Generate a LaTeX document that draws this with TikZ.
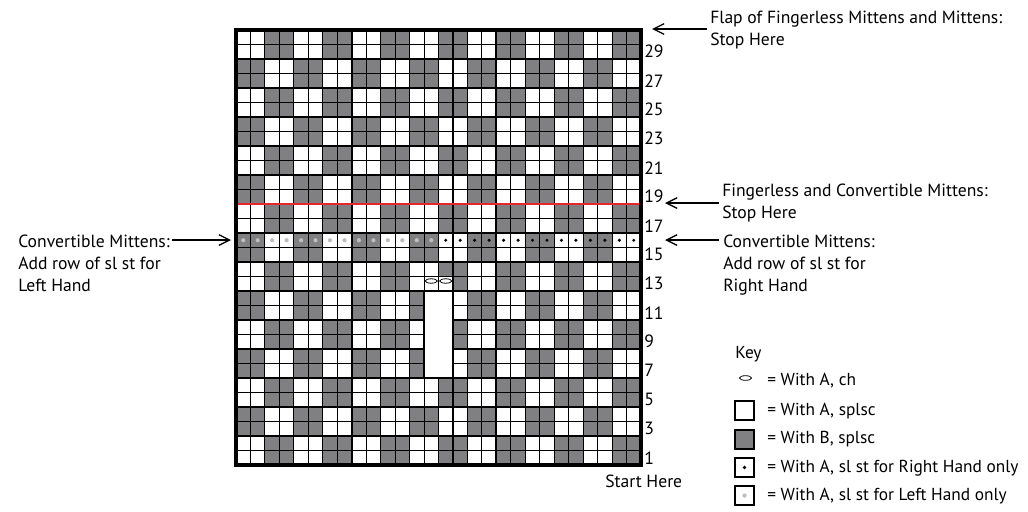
\documentclass[tikz,border=0pt]{standalone}
\usepackage{fontspec}
\setmainfont{PT Sans}
\usetikzlibrary{arrows.meta}
\definecolor{cgray}{RGB}{128,128,131}
\definecolor{lgray}{RGB}{190,190,190}
\definecolor{cred}{RGB}{232,36,44}
\begin{document}
\begin{tikzpicture}[x=0.75pt,y=-0.75pt,
  lbl/.style={font=\fontsize{13.2}{16.5}\selectfont, inner sep=0pt, align=left, anchor=base west},
  keylbl/.style={font=\fontsize{13}{16}\selectfont, inner sep=0pt, anchor=base west},
  num/.style={font=\fontsize{13.3}{15}\selectfont, inner sep=0pt, anchor=west},
  arr/.style={-{Straight Barb[length=8pt,width=8pt,line width=1pt]}, line width=1pt},
  gridthin/.style={line width=0.8pt},
  gridthick/.style={line width=1.6pt},
  gridouter/.style={line width=2.3pt},
  keybox/.style={draw, line width=1.6pt, minimum size=14, inner sep=0pt},
  chain/.style={draw, fill=white, line width=0.6pt}
]
\useasboundingbox (0,0) rectangle (1028,511);
\fill[white] (0,0) rectangle (1028,511);
\pgfmathsetmacro{\w}{405/28}
\def\h{14.5}
% gray cells
\foreach \c in {0,...,27}{
  \foreach \r in {1,...,30}{
    \pgfmathtruncatemacro{\g}{mod(floor(\c/2)+floor((\r-1)/2),2)}
    \ifnum\g=1
      \fill[cgray] ({236+\c*\w},{30+(30-\r)*\h}) rectangle ++(\w,\h);
    \fi
  }
}
% row 13, cols 13-14 white (chain)
\fill[white] ({236+13*\w},{30+17*\h}) rectangle ++({2*\w},\h);
% thin grid
\foreach \c in {0,...,28}
  \draw[gridthin] ({236+\c*\w},30) -- ({236+\c*\w},465);
\foreach \k in {0,...,30}
  \draw[gridthin] (236,{30+\k*\h}) -- (641,{30+\k*\h});
% thick divisions
\draw[gridthick] ({236+8*\w},30) -- ({236+8*\w},465);
\draw[gridthick] ({236+18*\w},30) -- ({236+18*\w},465);
\draw[gridthick] (236,175) -- (641,175);
\draw[gridthick] (236,320) -- (641,320);
% opening
\fill[white] ({236+13*\w},291) rectangle ({236+15*\w},378);
\draw[gridthick] ({236+13*\w},291) rectangle ({236+15*\w},378);
% chain symbols
\foreach \c in {13,14}
  \draw[chain] ({236+(\c+0.5)*\w},281) ellipse [x radius=6, y radius=2.2];
% slip stitch row 16
\foreach \c in {0,...,13}
  \fill[lgray] ({236+(\c+0.5)*\w},240.25) circle [radius=2.1];
\foreach \c in {14,...,27}
  \fill[black] ({236+(\c+0.5)*\w},240.25) circle [radius=1.7];
% red line
\draw[cred, line width=1.5pt] (236,204) -- (641,204);
% outer border
\draw[gridouter] (236,30) rectangle (641,465);
% row numbers
\foreach \r in {1,3,...,29}
  \node[num] (n\r) at (644,{30+(30-\r)*\h+7.25}) {\r};
\node[lbl] (start) at (605,487) {Start Here};
% annotations
\node[lbl] (flap) at (710,45) {Flap of Fingerless Mittens and Mittens:\\Stop Here};
\node[lbl] (fing) at (722,218) {Fingerless and Convertible Mittens:\\Stop Here};
\node[lbl] (convr) at (723,291) {Convertible Mittens:\\Add row of sl st for\\Right Hand};
\node[lbl] (convl) at (18,291) {Convertible Mittens:\\Add row of sl st for\\Left Hand};
\coordinate (a1s) at (707,29);  \coordinate (a1e) at (652,29);
\coordinate (a2s) at (719,203); \coordinate (a2e) at (665,203);
\coordinate (a3s) at (719,240); \coordinate (a3e) at (665,240);
\coordinate (a4s) at (172,240); \coordinate (a4e) at (231,240);
\draw[arr] (a1s) -- (a1e);
\draw[arr] (a2s) -- (a2e);
\draw[arr] (a3s) -- (a3e);
\draw[arr] (a4s) -- (a4e);
% key
\node[keylbl] (key) at (735,358) {Key};
\draw[chain] (745.5,378) ellipse [x radius=6, y radius=2.3];
\coordinate (kch) at (745.5,378);
\node[keylbl] (k1) at (767,385) {= With A, ch};
\node[keybox, fill=white] (kb2) at (744.5,410.5) {};
\node[keylbl] (k2) at (767,415) {= With A, splsc};
\node[keybox, fill=cgray] (kb3) at (744.5,439.5) {};
\node[keylbl] (k3) at (767,443.5) {= With B, splsc};
\node[keybox, fill=white] (kb4) at (744.5,467.5) {};
\fill[black] (kb4.center) circle [radius=1.8];
\node[keylbl] (k4) at (767,472) {= With A, sl st for Right Hand only};
\node[keybox, fill=white] (kb5) at (744.5,495.5) {};
\fill[lgray] (kb5.center) circle [radius=2.1];
\node[keylbl] (k5) at (767,500) {= With A, sl st for Left Hand only};
\end{tikzpicture}
\end{document}
